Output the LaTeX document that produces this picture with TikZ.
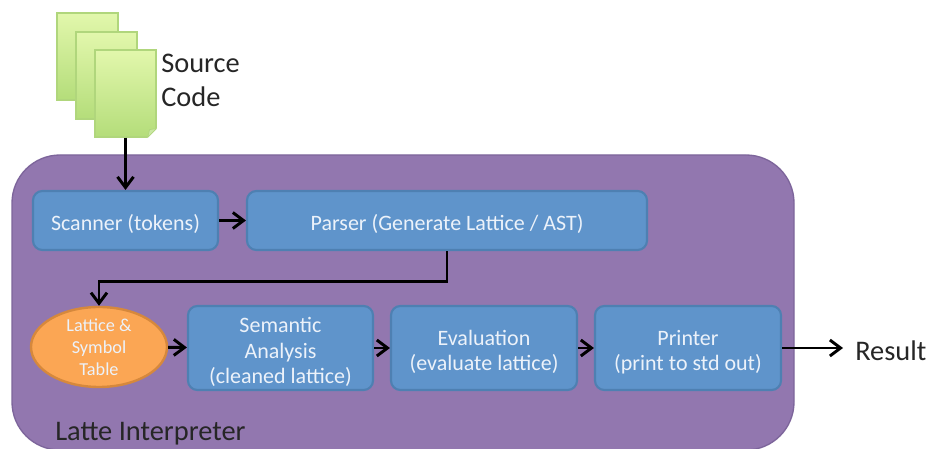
\documentclass[tikz,border=0pt]{standalone}
\usepackage{fontspec}
\setmainfont{Carlito}
\usetikzlibrary{arrows.meta,positioning,shapes.geometric}
\definecolor{panelpurple}{RGB}{146,119,175}
\definecolor{paneledge}{RGB}{125,101,155}
\definecolor{stepblue}{RGB}{95,148,203}
\definecolor{stepedge}{RGB}{78,128,178}
\definecolor{tableorange}{RGB}{251,166,84}
\definecolor{tableedge}{RGB}{214,136,60}
\definecolor{pagetop}{RGB}{226,247,172}
\definecolor{pagebottom}{RGB}{180,221,122}
\definecolor{pageedge}{RGB}{176,214,124}
\definecolor{steptext}{RGB}{236,242,250}
\newcommand{\steplines}[2][-3.75pt]{\raisebox{#1}[\height][\depth]{\begin{tabular}{@{}c@{}}#2\end{tabular}}}

\begin{document}
\begin{tikzpicture}[
    x=0.75pt, y=0.75pt,
    stepbox/.style={
        rectangle, rounded corners=7pt, draw=stepedge, line width=1.6pt,
        fill=stepblue, text=steptext, align=center,
        font=\fontsize{16.5}{19}\selectfont, inner sep=0pt
    },
    page/.style={
        rectangle, draw=pageedge, line width=0.9pt,
        top color=pagetop, bottom color=pagebottom,
        minimum width=45.75pt, minimum height=65.25pt, inner sep=0pt
    },
    arrow/.style={-{Straight Barb[length=8pt,width=12pt]}, line width=2.2pt, black},
    plain/.style={font=\fontsize{21.3}{25.5}\selectfont, text=black!85, inner sep=0pt}
]
\clip (0,0) rectangle (928,449);

% Interpreter panel
\draw[fill=panelpurple, draw=paneledge, line width=1pt, rounded corners=36pt]
    (12,-1) rectangle (794,294);
\node[plain, anchor=base west] (latte) at (55,8) {Latte Interpreter};

% Source pages
\node[page] (page1) at (87.5,392.5) {};
\node[page] (page2) at (106.5,373.5) {};
\node[page] (page3) at (125.5,355.5) {};
\fill[white] (page3.south east) ++(-10,-1) -- ++(11,0) -- ++(0,11) -- cycle;
\fill[pagebottom!70!white, draw=pageedge, line width=0.5pt, line join=round]
    (page3.south east) ++(-9,0) -- ++(9,9) -- ++(-7,-1) -- cycle;
\node[plain, align=left, anchor=west] (source) at (161,369) {Source\\Code};

% Steps
\node[stepbox, minimum width=138.75pt, minimum height=44.25pt] (scanner) at (125.5,228.5) {\steplines{Scanner (tokens)}};
\node[stepbox, minimum width=300pt, minimum height=44.25pt] (parser) at (447,228.5) {\steplines{Parser (Generate Lattice / AST)}};
\node[ellipse, draw=tableedge, line width=1.8pt, fill=tableorange, text=steptext, align=center,
    minimum width=102pt, minimum height=60pt, inner sep=-4pt,
    font=\fontsize{13.7}{16.5}\selectfont] (table) at (99,102) {\steplines[-1.5pt]{Lattice \&\\Symbol\\Table}};
\node[stepbox, minimum width=138.75pt, minimum height=63pt] (semantic) at (280.5,101) {\steplines{Semantic\\Analysis\\(cleaned lattice)}};
\node[stepbox, minimum width=139.5pt, minimum height=63pt] (evaluation) at (484,101) {\steplines{Evaluation\\(evaluate lattice)}};
\node[stepbox, minimum width=139.5pt, minimum height=63pt] (printer) at (688,101) {\steplines{Printer\\(print to std out)}};
\node[plain, anchor=west] (result) at (855,98) {Result};
\coordinate (resultend) at (843,101);

% Flow
\draw[arrow] (page3.south) -- (scanner.north);
\draw[arrow] (scanner) -- (parser);
\draw[arrow] (parser.south) -- ++(0,-30) -| (table.north);
\draw[arrow] (table) -- (semantic);
\draw[arrow] (semantic) -- (evaluation);
\draw[arrow] (evaluation) -- (printer);
\draw[arrow] (printer) -- (resultend);

\end{tikzpicture}
\end{document}
